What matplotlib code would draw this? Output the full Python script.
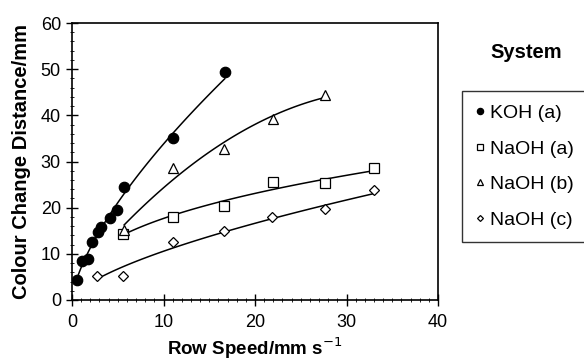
"""
Colour change distance vs flow speed for the four systems.
"""

import numpy as np
import matplotlib
matplotlib.use('Agg')
import matplotlib.pyplot as plt
from matplotlib.ticker import MultipleLocator

plt.rcParams['font.family'] = ['Liberation Sans', 'DejaVu Sans']

# values
koh_a_x = [0.5, 1.1, 1.8, 2.2, 2.8, 3.2, 4.1, 4.9, 5.7, 11.0, 16.7]
koh_a_y = [4.3, 8.4, 8.9, 12.6, 14.8, 15.9, 17.7, 19.5, 24.5, 35.1, 49.3]

naoh_a_x = [5.6, 11.0, 16.6, 22.0, 27.6, 33.0]
naoh_a_y = [14.4, 18.0, 20.4, 25.6, 25.3, 28.5]

naoh_b_x = [5.7, 11.0, 16.6, 22.0, 27.6]
naoh_b_y = [15.2, 28.5, 32.8, 39.3, 44.4]

naoh_c_x = [2.7, 5.6, 11.0, 16.6, 21.9, 27.6, 33.0]
naoh_c_y = [5.3, 5.3, 12.5, 15.0, 18.0, 19.8, 23.8]

# name, data, trend type, marker style
series = [
    ('KOH (a)', koh_a_x, koh_a_y, 'power', dict(marker='o', ms=7.5, mfc='black')),
    ('NaOH (a)', naoh_a_x, naoh_a_y, 'power', dict(marker='s', ms=7, mfc='white')),
    ('NaOH (b)', naoh_b_x, naoh_b_y, 'quad', dict(marker='^', ms=7.5, mfc='white')),
    ('NaOH (c)', naoh_c_x, naoh_c_y, 'power', dict(marker='D', ms=5, mfc='white')),
]

fig = plt.figure(figsize=(5.84, 3.63), dpi=100)
ax = fig.add_axes([72/584, 1-300/363, (438-72)/584, (300-23)/363])

for name, xs, ys, fit, style in series:
    xs = np.array(xs)
    ys = np.array(ys)
    xx = np.linspace(xs.min(), xs.max(), 100)
    if fit == 'power':
        b, ln_a = np.polyfit(np.log(xs), np.log(ys), 1)
        yy = np.exp(ln_a) * xx**b
    else:
        yy = np.polyval(np.polyfit(xs, ys, 2), xx)
    ax.plot(xx, yy, color='black', lw=1.1, zorder=2)
    ax.plot(xs, ys, ls='none', mec='black', mew=0.9, color='black',
            label=name, zorder=3, **style)

ax.set_xlim(0, 40)
ax.set_ylim(0, 60)
ax.xaxis.set_major_locator(MultipleLocator(10))
ax.yaxis.set_major_locator(MultipleLocator(10))
ax.xaxis.set_minor_locator(MultipleLocator(1))
ax.yaxis.set_minor_locator(MultipleLocator(2))
ax.tick_params(which='major', direction='inout', length=8, width=1, labelsize=13)
ax.tick_params(axis='x', which='major', pad=6)
ax.tick_params(axis='y', which='major', pad=4)
ax.tick_params(which='minor', direction='inout', length=3, width=0.6)
for s in ax.spines.values():
    s.set_linewidth(1.2)

ax.set_xlabel('Row Speed/mm s$^{-1}$', fontsize=13.5, fontweight='bold', labelpad=3)
ax.set_ylabel('Colour Change Distance/mm', fontsize=14.5, fontweight='bold', labelpad=7)

fig.text(526/584, 1-52/363, 'System', fontsize=14.5, fontweight='bold',
         ha='center', va='center')
fig.legend(loc='upper left', bbox_to_anchor=(462/584, 1-91/363),
           fontsize=14, frameon=True, fancybox=False, edgecolor='black',
           handlelength=0.5, handletextpad=0.25, labelspacing=0.92,
           borderpad=0.7, borderaxespad=0, markerscale=0.6)

plt.savefig('out.png', dpi=100)
